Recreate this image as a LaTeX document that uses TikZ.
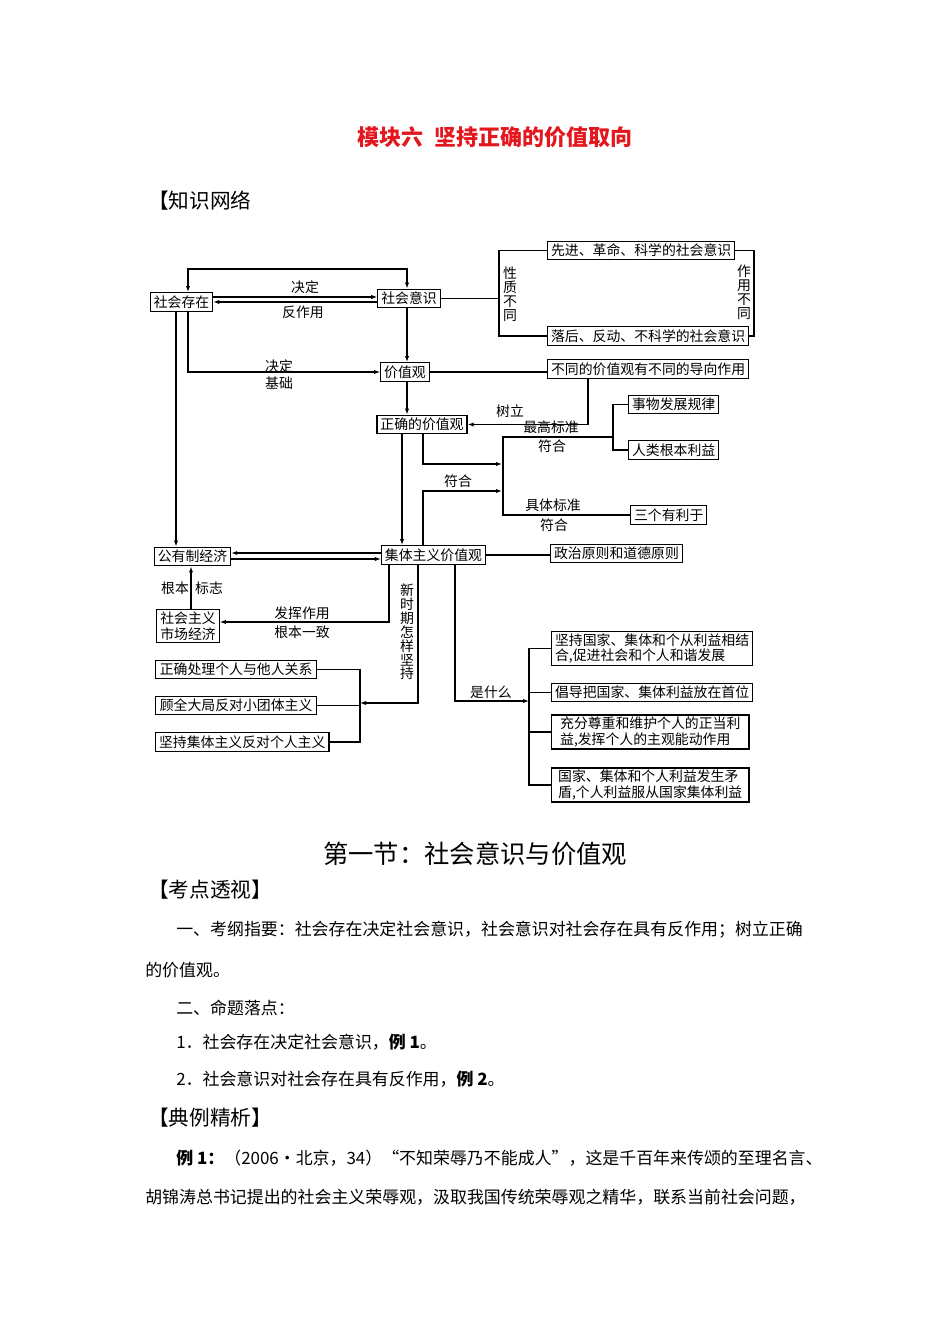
\documentclass[tikz,border=0pt]{standalone}
\usepackage{fontspec}
\setmainfont{Noto Sans CJK SC}
\usepackage{tikz}
\usetikzlibrary{arrows.meta,positioning,calc}
\definecolor{titlered}{RGB}{228,22,30}

\begin{document}
\begin{tikzpicture}[
			x=0.75pt,y=-0.75pt,
			>={Latex[length=4.5pt,width=3.2pt]},
			box/.style={
				draw,
				line width=0.9pt,
				inner xsep=2.6pt,
				inner ysep=1.4pt,
				minimum height=14pt,
				font=\fontsize{10.4}{11.8}\selectfont
			},
			twoline/.style={box,align=left,inner ysep=1.5pt},
			lbl/.style={inner sep=0pt,font=\fontsize{10.4}{12}\selectfont},
			vlbl/.style={inner sep=0pt,align=center,font=\fontsize{10.4}{10.4}\selectfont},
			line/.style={line width=0.8pt},
			arrow/.style={->,line width=0.8pt},
			head/.style={inner sep=0pt,anchor=west,font=\fontsize{15.5}{18}\selectfont},
			body/.style={inner sep=0pt,anchor=west,font=\fontsize{12.7}{15}\selectfont}
			]
			\useasboundingbox (0,0) rectangle (950,1344);
			
			\node[inner sep=0pt,text=titlered,font=\fontsize{16.5}{20}\selectfont\bfseries] (title) at (495,137) {模块六\hspace{0.5em}坚持正确的价值取向};
			\node[head] (net) at (148,201) {【知识网络};
			
			\node[box] (ss) at (181.5,302) {社会存在};
			\node[box] (sy) at (409,298.5) {社会意识};
			\node[box,anchor=west] (xj) at (547,250.5) {先进、革命、科学的社会意识};
			\node[box,anchor=west] (lh) at (547,336) {落后、反动、不科学的社会意识};
			\node[box] (jzg) at (405,372) {价值观};
			\node[box,anchor=west] (dx) at (547,369) {不同的价值观有不同的导向作用};
			\node[box] (zq) at (422,424.5) {正确的价值观};
			\node[box,anchor=west] (gl) at (628,404.5) {事物发展规律};
			\node[box,anchor=west] (rl) at (628,450) {人类根本利益};
			\node[box,anchor=west] (sg) at (630,515) {三个有利于};
			\node[box] (jt) at (433.5,555) {集体主义价值观};
			\node[box] (gy) at (192.5,556.5) {公有制经济};
			\node[box,anchor=west] (zz) at (550,553.5) {政治原则和道德原则};
			\node[twoline] (sc) at (188,626) {社会主义\\市场经济};
			\node[box,anchor=west,minimum width=120.75pt] (gr1) at (155,669.5) {正确处理个人与他人关系};
			\node[box,anchor=west,minimum width=120.75pt] (gr2) at (155,705.5) {顾全大局反对小团体主义};
			\node[box,anchor=west] (gr3) at (155,742) {坚持集体主义反对个人主义};
			\node[twoline,anchor=west,minimum width=148pt] (sm1) at (551,648.5) {坚持国家、集体和个从利益相结\\合,促进社会和个人和谐发展};
			\node[box,anchor=west,minimum width=148pt] (sm2) at (551,692.5) {倡导把国家、集体利益放在首位};
			\node[twoline,anchor=west,minimum width=148pt] (sm3) at (551,732) {充分尊重和维护个人的正当利\\益,发挥个人的主观能动作用};
			\node[twoline,anchor=west,minimum width=148pt] (sm4) at (551,785) {国家、集体和个人利益发生矛\\盾,个人利益服从国家集体利益};
			
			\coordinate (loopL) at (188,269);
			\coordinate (loopR) at (407,269);
			\coordinate (brL) at (499,300);
			\coordinate (brR) at (754,290);
			\coordinate (vsy) at (407,0);
			\coordinate (vgy) at (176,0);
			\coordinate (vsl) at (588,0);
			\coordinate (vzq) at (423,0);
			\coordinate (vjt) at (402,0);
			\coordinate (hubA) at (502,464);
			\coordinate (hubB) at (502,491);
			\coordinate (hubT) at (503,437);
			\coordinate (hubS) at (613,437);
			\coordinate (vsc) at (191,0);
			\coordinate (vfh) at (389,0);
			\coordinate (vxs) at (418,0);
			\coordinate (brG) at (360,703);
			\coordinate (vsm) at (455,0);
			\coordinate (brS) at (529,701);
			
			\draw[line,<->] (ss.north -| loopL) -- (loopL) -- (loopR) -- (sy.north -| loopR);
			\draw[arrow] ([yshift=3.75pt]ss.east) -- ([yshift=3.75pt]ss.east -| sy.west);
			\draw[arrow] (ss.east -| sy.west) -- (ss.east);
			\draw[line] (sy.east) -- (sy.east -| brL);
			\draw[line] (xj.west) -- (xj.west -| brL) -- (lh.west -| brL) -- (lh.west);
			\draw[line] (xj.east) -- (xj.east -| brR) -- (lh.east -| brR) -- (lh.east);
			\draw[arrow] (sy.south -| vsy) -- (jzg.north -| vsy);
			\draw[arrow] (ss.south -| loopL) |- (jzg.west);
			\draw[arrow] (ss.south -| vgy) -- (gy.north -| vgy);
			\draw[line] (jzg.east) -- (jzg.east -| dx.west);
			\draw[arrow] (jzg.south -| vsy) -- (zq.north -| vsy);
			\draw[arrow] (dx.south -| vsl) |- (zq.east);
			\draw[arrow] (zq.south -| vzq) |- (hubA);
			\draw[arrow] (jt.north -| vzq) |- (hubB);
			\draw[arrow] (zq.south -| vjt) -- (jt.north -| vjt);
			\draw[line] (sg.west) -| (hubT) -- (hubS);
			\draw[line] (gl.west) -- (gl.west -| hubS) -- (rl.west -| hubS) -- (rl.west);
			\draw[arrow] ([yshift=1.5pt]jt.west) -- ([yshift=1.5pt]jt.west -| gy.east);
			\draw[arrow] ([yshift=-3pt]jt.west -| gy.east) -- ([yshift=-3pt]jt.west);
			\draw[line] (jt.east) -- (jt.east -| zz.west);
			\draw[arrow] (sc.north -| vsc) -- (gy.south -| vsc);
			\draw[arrow] (jt.south -| vfh) |- ([yshift=3pt]sc.east);
			\draw[arrow] (jt.south -| vxs) |- (brG);
			\draw[line] (gr1.east) -- (gr1.east -| brG) -- (gr3.east -| brG) -- (gr3.east);
			\draw[line] (gr2.east) -- (gr2.east -| brG);
			\draw[arrow] (jt.south -| vsm) |- (brS);
			\draw[line] (sm1.west) -- (sm1.west -| brS) -- (sm4.west -| brS) -- (sm4.west);
			\draw[line] (sm2.west) -- (sm2.west -| brS);
			\draw[line] (sm3.west) -- (sm3.west -| brS);
			
			\node[lbl] (jd1) at (305,287) {决定};
			\node[lbl] (fzy) at (303,312) {反作用};
			\node[vlbl] (xzbt) at (510,294) {性\\质\\不\\同};
			\node[vlbl] (zybt) at (744,292) {作\\用\\不\\同};
			\node[lbl] (jd2) at (279,366) {决定};
			\node[lbl] (jc) at (279,383) {基础};
			\node[lbl] (sl) at (510,411) {树立};
			\node[lbl] (zgbz) at (551,427) {最高标准};
			\node[lbl] (fh1) at (552,446) {符合};
			\node[lbl] (fh2) at (458,481) {符合};
			\node[lbl] (jtbz) at (553,505) {具体标准};
			\node[lbl] (fh3) at (554,525) {符合};
			\node[lbl] (gb) at (175,588) {根本};
			\node[lbl] (bz) at (209,588) {标志};
			\node[lbl] (fhzy) at (302,613) {发挥作用};
			\node[lbl] (gbyz) at (302,632) {根本一致};
			\node[vlbl] (xsq) at (407,632) {新\\时\\期\\怎\\样\\坚\\持};
			\node[lbl] (ssm) at (491,692) {是什么};
			
			\node[inner sep=0pt,font=\fontsize{19}{22}\selectfont] (sec) at (475,854) {第一节：社会意识与价值观};
			\node[head] (kd) at (148,890) {【考点透视】};
			\node[body] (kg1) at (176,930) {一、考纲指要：社会存在决定社会意识，社会意识对社会存在具有反作用；树立正确};
			\node[body] (kg2) at (145,970) {的价值观。};
			\node[body] (mt) at (176,1008) {二、命题落点：};
			\node[body] (ld1) at (176,1042) {1．社会存在决定社会意识，\textbf{例 1}。};
			\node[body] (ld2) at (176,1079) {2．社会意识对社会存在具有反作用，\textbf{例 2}。};
			\node[head] (dl) at (148,1118) {【典例精析】};
			\node[body] (lz1) at (176,1158) {\textbf{例 1：}（2006·北京，34）“不知荣辱乃不能成人”，这是千百年来传颂的至理名言、};
			\node[body] (lz2) at (145,1197) {胡锦涛总书记提出的社会主义荣辱观，汲取我国传统荣辱观之精华，联系当前社会问题，};
			
		\end{tikzpicture}
\end{document}
